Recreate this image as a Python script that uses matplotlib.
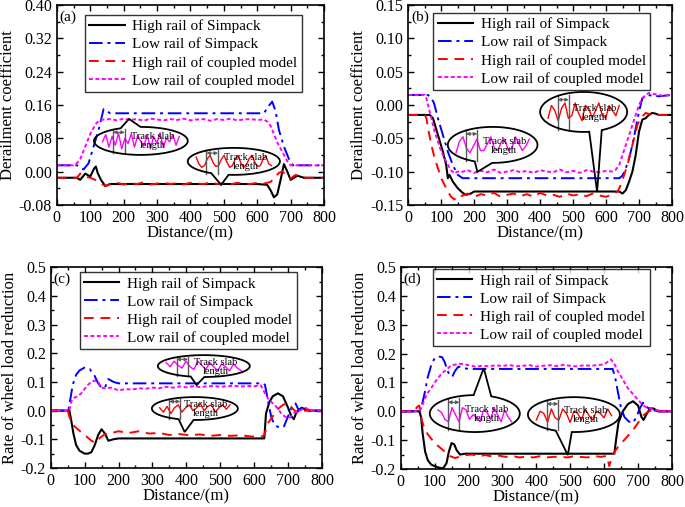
import numpy as np
import matplotlib
matplotlib.use("Agg")
import matplotlib.pyplot as plt
from matplotlib.patches import Polygon
from matplotlib.ticker import MultipleLocator, FormatStrFormatter

plt.rcParams['font.family'] = ['Liberation Serif', 'DejaVu Serif']
plt.rcParams['axes.unicode_minus'] = False

labels = ["High rail of Simpack", "Low rail of Simpack",
          "High rail of coupled model", "Low rail of coupled model"]
xlabel = "Distance/(m)"
ylabels = ["Derailment coefficient", "Derailment coefficient",
           "Rate of wheel load reduction", "Rate of wheel load reduction"]
panel_tags = ["(a)", "(b)", "(c)", "(d)"]
slab_text = "Track slab\nlength"

dist_flat = [160, 180, 200, 220, 240, 260, 280, 300, 320, 340, 360, 380,
             400, 420, 440, 460, 480, 500, 520, 540, 560, 580, 600, 620]

# ---------------- panel (a) ----------------
a_hs_x = [0, 60, 70, 85, 100, 112, 117, 122, 132, 145, 160, 300, 500, 600, 630, 640, 650, 660, 670, 680, 690, 700, 720, 740, 800]
a_hs_y = [-0.015, -0.015, -0.02, -0.005, -0.012, 0.008, 0.012, -0.003, -0.02, -0.035, -0.03, -0.03, -0.03, -0.03, -0.032, -0.045, -0.062, -0.055, -0.02, 0.018, 0.0, -0.02, -0.01, -0.015, -0.015]
a_ls_x = [0, 60, 70, 80, 95, 110, 125, 140, 160, 300, 500, 620, 632, 645, 655, 665, 680, 695, 710, 720, 800]
a_ls_y = [0.015, 0.015, 0.01, 0.005, 0.02, 0.06, 0.1, 0.15, 0.14, 0.14, 0.14, 0.14, 0.155, 0.168, 0.145, 0.1, 0.06, 0.03, 0.012, 0.015, 0.015]
a_hc_pre_x = [0, 60, 70, 85, 100, 115, 130, 145]
a_hc_pre_y = [-0.015, -0.015, -0.005, -0.012, -0.015, -0.02, -0.028, -0.035]
a_hc_flat = [-0.03, -0.027, -0.031, -0.028, -0.03, -0.026, -0.031, -0.029, -0.027, -0.03, -0.028, -0.031,
             -0.027, -0.029, -0.03, -0.026, -0.03, -0.028, -0.031, -0.027, -0.029, -0.03, -0.027, -0.029]
a_hc_post_x = [640, 655, 665, 675, 690, 700, 715, 730, 745, 800]
a_hc_post_y = [-0.025, -0.012, -0.003, 0.0, -0.01, -0.017, -0.008, -0.012, -0.015, -0.015]
a_lc_pre_x = [0, 50, 60, 70, 80, 90, 100, 110, 120, 130, 140]
a_lc_pre_y = [0.015, 0.015, 0.02, 0.03, 0.05, 0.07, 0.09, 0.105, 0.118, 0.123, 0.125]
a_lc_flat = [0.126, 0.123, 0.127, 0.124, 0.126, 0.122, 0.127, 0.125, 0.123, 0.126, 0.124, 0.127,
             0.123, 0.125, 0.126, 0.122, 0.126, 0.124, 0.127, 0.123, 0.125, 0.126, 0.124, 0.125]
a_lc_post_x = [630, 640, 650, 660, 670, 680, 690, 700, 720, 800]
a_lc_post_y = [0.12, 0.11, 0.09, 0.07, 0.055, 0.04, 0.025, 0.015, 0.015, 0.015]

# ---------------- panel (b) ----------------
b_hs_x = [0, 65, 75, 90, 105, 115, 120, 125, 135, 150, 165, 175, 190, 200, 640, 650, 660, 670, 680, 690, 700, 710, 720, 730, 740, 750, 760, 800]
b_hs_y = [-0.015, -0.015, -0.02, -0.045, -0.07, -0.09, -0.11, -0.105, -0.115, -0.125, -0.132, -0.135, -0.133, -0.13, -0.13, -0.133, -0.128, -0.115, -0.1, -0.075, -0.04, -0.022, -0.02, -0.015, -0.012, -0.013, -0.015, -0.015]
b_ls_x = [0, 60, 70, 78, 90, 105, 120, 135, 150, 165, 640, 650, 660, 670, 680, 690, 700, 710, 725, 740, 760, 800]
b_ls_y = [0.015, 0.015, 0.01, 0.003, -0.02, -0.045, -0.07, -0.09, -0.105, -0.11, -0.11, -0.106, -0.095, -0.08, -0.06, -0.035, -0.01, 0.01, 0.015, 0.014, 0.013, 0.015]
b_hc_pre_x = [0, 50, 55, 62, 70, 80, 90, 100, 110, 120, 130, 140, 150]
b_hc_pre_y = [-0.015, -0.015, -0.02, -0.04, -0.06, -0.08, -0.095, -0.11, -0.12, -0.13, -0.138, -0.142, -0.136]
b_hc_flat = [-0.137, -0.133, -0.138, -0.134, -0.136, -0.132, -0.138, -0.135, -0.133, -0.137, -0.134, -0.138,
             -0.132, -0.136, -0.135, -0.138, -0.133, -0.136, -0.134, -0.137, -0.133, -0.136, -0.138, -0.134]
b_hc_post_x = [635, 645, 655, 665, 675, 685, 695, 705, 720, 740, 800]
b_hc_post_y = [-0.13, -0.12, -0.105, -0.09, -0.07, -0.05, -0.03, -0.02, -0.012, -0.015, -0.015]
b_lc_pre_x = [0, 50, 55, 60, 70, 80, 90, 100, 110, 120, 130, 140, 150]
b_lc_pre_y = [0.015, 0.015, 0.01, 0.0, -0.02, -0.04, -0.055, -0.07, -0.08, -0.09, -0.098, -0.103, -0.1]
b_lc_flat = [-0.101, -0.098, -0.102, -0.099, -0.101, -0.097, -0.102, -0.1, -0.098, -0.101, -0.099, -0.102,
             -0.098, -0.1, -0.101, -0.097, -0.101, -0.099, -0.102, -0.098, -0.1, -0.101, -0.099, -0.1]
b_lc_post_x = [630, 640, 650, 660, 670, 680, 690, 700, 710, 720, 730, 750, 770, 800]
b_lc_post_y = [-0.097, -0.09, -0.075, -0.06, -0.045, -0.03, -0.015, 0.0, 0.01, 0.015, 0.018, 0.016, 0.014, 0.015]

# ---------------- panel (c) ----------------
c_hs_x = [0, 55, 60, 67, 75, 85, 100, 110, 120, 130, 140, 150, 160, 170, 185, 200, 630, 635, 645, 655, 670, 685, 700, 710, 717, 725, 740, 760, 800]
c_hs_y = [0, 0, -0.03, -0.08, -0.12, -0.14, -0.15, -0.15, -0.145, -0.12, -0.085, -0.065, -0.08, -0.105, -0.1, -0.097, -0.097, -0.01, 0.03, 0.05, 0.06, 0.05, 0.01, -0.02, -0.03, -0.005, 0.01, 0.0, 0.0]
c_ls_x = [0, 52, 58, 65, 75, 85, 100, 115, 130, 140, 150, 160, 170, 185, 200, 625, 632, 640, 650, 660, 675, 688, 700, 712, 722, 732, 745, 760, 800]
c_ls_y = [0, 0, 0.04, 0.09, 0.125, 0.14, 0.15, 0.145, 0.12, 0.095, 0.08, 0.08, 0.11, 0.1, 0.095, 0.095, 0.09, 0.04, -0.02, -0.05, -0.06, -0.055, -0.02, 0.015, 0.025, 0.0, 0.01, 0.0, 0.0]
c_hc_x = [0, 50, 55, 62, 75, 90, 105, 120, 132, 145, 160, 180, 200, 230, 260, 290, 320, 350, 380, 410, 440, 470, 500, 530, 560, 590, 620, 630, 640, 655, 670, 685, 700, 715, 730, 750, 770, 800]
c_hc_y = [0, 0, -0.02, -0.045, -0.06, -0.075, -0.09, -0.105, -0.112, -0.095, -0.082, -0.078, -0.072, -0.078, -0.072, -0.08, -0.078, -0.085, -0.082, -0.086, -0.083, -0.088, -0.085, -0.088, -0.086, -0.09, -0.092, -0.085, -0.045, -0.02, 0.005, 0.02, 0.025, 0.005, -0.01, 0.0, 0.0, 0.0]
c_lc_pre_x = [0, 55, 60, 70, 80, 90, 100, 110, 120, 130, 140, 150]
c_lc_pre_y = [0, 0, 0.03, 0.045, 0.05, 0.06, 0.075, 0.09, 0.1, 0.105, 0.1, 0.08]
c_lc_flat = [0.078, 0.08, 0.07, 0.075, 0.073, 0.078, 0.076, 0.08, 0.078, 0.083, 0.08, 0.084,
             0.081, 0.085, 0.082, 0.084, 0.086, 0.083, 0.085, 0.087, 0.084, 0.086, 0.085, 0.088]
c_lc_post_x = [632, 642, 655, 668, 680, 692, 705, 720, 735, 750, 770, 800]
c_lc_post_y = [0.06, 0.04, 0.025, 0.01, -0.01, -0.022, -0.025, -0.005, 0.0, 0.01, 0.0, 0.0]

# ---------------- panel (d) ----------------
d_hs_x = [0, 55, 60, 65, 72, 80, 90, 100, 112, 125, 135, 142, 150, 158, 165, 175, 190, 630, 635, 642, 655, 670, 685, 700, 710, 716, 725, 735, 745, 760, 800]
d_hs_y = [0, 0, -0.02, -0.08, -0.14, -0.17, -0.185, -0.19, -0.195, -0.198, -0.18, -0.14, -0.11, -0.115, -0.135, -0.15, -0.147, -0.147, -0.1, -0.04, 0.0, 0.025, 0.035, 0.02, -0.02, -0.03, -0.01, 0.01, 0.01, 0.0, 0.0]
d_ls_x = [0, 55, 62, 70, 80, 90, 100, 112, 122, 130, 138, 145, 152, 160, 170, 185, 200, 625, 632, 640, 650, 660, 672, 685, 695, 705, 715, 725, 740, 760, 800]
d_ls_y = [0, 0, 0.02, 0.06, 0.12, 0.16, 0.185, 0.19, 0.188, 0.17, 0.14, 0.125, 0.12, 0.14, 0.155, 0.15, 0.147, 0.147, 0.12, 0.07, 0.01, -0.02, -0.035, -0.04, -0.02, 0.01, 0.03, 0.015, 0.005, 0.0, 0.0]
d_hc_x = [0, 40, 48, 55, 62, 70, 80, 90, 100, 115, 130, 145, 160, 175, 190, 210, 230, 250, 270, 290, 310, 330, 350, 370, 390, 410, 430, 450, 470, 490, 510, 530, 550, 570, 590, 608, 615, 625, 640, 655, 670, 685, 700, 715, 730, 750, 770, 800]
d_hc_y = [0, 0, 0.015, 0.02, -0.03, -0.06, -0.08, -0.095, -0.11, -0.125, -0.14, -0.155, -0.162, -0.157, -0.152, -0.15, -0.155, -0.152, -0.157, -0.154, -0.158, -0.155, -0.16, -0.157, -0.16, -0.156, -0.16, -0.158, -0.157, -0.16, -0.156, -0.158, -0.16, -0.155, -0.158, -0.155, -0.19, -0.15, -0.125, -0.105, -0.085, -0.065, -0.04, -0.015, 0.0, 0.005, 0.0, 0.0]
d_lc_pre_x = [0, 55, 60, 70, 80, 90, 100, 110, 120, 130, 140, 150]
d_lc_pre_y = [0, 0, 0.01, 0.04, 0.065, 0.08, 0.1, 0.115, 0.13, 0.14, 0.15, 0.16]
d_lc_flat = [0.162, 0.165, 0.16, 0.155, 0.158, 0.156, 0.16, 0.157, 0.161, 0.156, 0.158, 0.16,
             0.155, 0.158, 0.16, 0.157, 0.161, 0.158, 0.156, 0.16, 0.158, 0.16, 0.163, 0.18]
d_lc_post_x = [630, 640, 650, 660, 670, 685, 700, 715, 730, 750, 770, 800]
d_lc_post_y = [0.165, 0.14, 0.12, 0.1, 0.08, 0.06, 0.04, 0.02, 0.01, 0.005, 0.0, 0.0]

# ---------------- inset waveforms (track slab detail) ----------------
wave_a1 = [0.5, 0.9, 0.2, 0.8, 0.3, 1.0, 0.1, 0.7, 0.4, 0.95, 0.2, 0.85, 0.5, 0.3, 0.9, 0.1, 0.8, 0.4, 1.0, 0.2, 0.7, 0.5, 0.9, 0.3, 0.8]
wave_a2 = [0.8, 0.4, 0.2, 0.3, 0.7, 0.9, 0.5, 0.25, 0.3, 0.65, 0.9, 0.5, 0.2, 0.3, 0.7, 0.9, 0.45, 0.2, 0.35, 0.7, 0.9, 0.5, 0.25, 0.3, 0.7, 0.85, 0.4, 0.3]
wave_b1 = [0.2, 0.7, 0.9, 0.4, 0.2, 0.5, 0.8, 0.3, 0.3, 0.6, 0.9, 0.4, 0.3, 0.7, 0.8, 0.3, 0.4, 0.9, 0.6, 0.3, 0.5, 0.8]
wave_b2 = [0.3, 0.8, 0.6, 0.2, 0.7, 0.9, 0.3, 0.4, 0.9, 0.5, 0.2, 0.8, 0.7, 0.3, 0.6, 0.9, 0.4, 0.3, 0.8, 0.6, 0.4, 0.8]
wave_c1 = [0.8, 0.5, 0.9, 0.6, 0.4, 0.9, 0.5, 0.3, 0.9, 0.6, 0.3, 0.8, 0.5, 0.2, 0.7, 0.5, 0.2, 0.7, 0.4, 0.2]
wave_c2 = [0.6, 0.3, 0.7, 0.2, 0.6, 0.8, 0.3, 0.6, 0.8, 0.4, 0.6, 0.9, 0.4, 0.7, 0.8, 0.3, 0.6, 0.8, 0.5, 0.8]
wave_d1 = [0.7, 0.6, 0.3, 0.2, 0.8, 0.5, 0.2, 0.8, 0.7, 0.3, 0.5, 0.4, 0.2, 0.7, 0.6, 0.3, 0.8, 0.5, 0.2, 0.7, 0.4, 0.2]
wave_d2 = [0.3, 0.7, 0.6, 0.2, 0.8, 0.4, 0.3, 0.8, 0.6, 0.2, 0.7, 0.6, 0.3, 0.8, 0.5, 0.3, 0.7, 0.6, 0.4, 0.8, 0.5]

BLUE, RED, MAG = '#0000FF', '#FF0000', '#FF00FF'

fig = plt.figure(figsize=(6.85, 5.07), dpi=100)
rects = [[0.083, 0.596, 0.390, 0.394],
         [0.596, 0.596, 0.385, 0.394],
         [0.074, 0.077, 0.396, 0.396],
         [0.585, 0.075, 0.396, 0.398]]
ylims = [(-0.08, 0.40), (-0.15, 0.15), (-0.2, 0.5), (-0.2, 0.5)]
ysteps = [0.08, 0.05, 0.1, 0.1]
yfmts = ['%.2f', '%.2f', '%.1f', '%.1f']
legend_anchor = [(0.105, 0.95), (0.095, 0.96), (0.107, 0.975), (0.118, 0.99)]

series = [
    [(a_hs_x, a_hs_y), (a_ls_x, a_ls_y),
     (a_hc_pre_x + dist_flat + a_hc_post_x, a_hc_pre_y + a_hc_flat + a_hc_post_y),
     (a_lc_pre_x + dist_flat + a_lc_post_x, a_lc_pre_y + a_lc_flat + a_lc_post_y)],
    [(b_hs_x, b_hs_y), (b_ls_x, b_ls_y),
     (b_hc_pre_x + dist_flat + b_hc_post_x, b_hc_pre_y + b_hc_flat + b_hc_post_y),
     (b_lc_pre_x + dist_flat + b_lc_post_x, b_lc_pre_y + b_lc_flat + b_lc_post_y)],
    [(c_hs_x, c_hs_y), (c_ls_x, c_ls_y), (c_hc_x, c_hc_y),
     (c_lc_pre_x + dist_flat + c_lc_post_x, c_lc_pre_y + c_lc_flat + c_lc_post_y)],
    [(d_hs_x, d_hs_y), (d_ls_x, d_ls_y), (d_hc_x, d_hc_y),
     (d_lc_pre_x + dist_flat + d_lc_post_x, d_lc_pre_y + d_lc_flat + d_lc_post_y)],
]

styles = [dict(color='k', lw=1.5, ls='-'),
          dict(color=BLUE, lw=1.4, dashes=[7, 2.5, 1.5, 2.5]),
          dict(color=RED, lw=1.4, dashes=[5, 3.5]),
          dict(color=MAG, lw=1.4, dashes=[2, 1.3])]

# callout layout: (cx, cy, w, h, base_angle_deg, half_width_rad, tip, wave, color)
callouts = [
    [(0.3145, 0.32, 0.351, 0.14, 103, 0.22, (0.27, 0.43), wave_a1, MAG),
     (0.6625, 0.2175, 0.345, 0.135, 252, 0.2, (0.615, 0.10), wave_a2, RED)],
    [(0.32, 0.30, 0.34, 0.18, 258, 0.2, (0.262, 0.165), wave_b1, MAG),
     (0.665, 0.465, 0.33, 0.20, 286, 0.15, (0.716, 0.065), wave_b2, RED)],
    [(0.5645, 0.5075, 0.339, 0.109, 262, 0.15, (0.538, 0.413), wave_c1, MAG),
     (0.5315, 0.296, 0.317, 0.114, 258, 0.18, (0.494, 0.179), wave_c2, RED)],
    [(0.273, 0.2745, 0.332, 0.183, 80, 0.2, (0.306, 0.50), wave_d1, MAG),
     (0.6385, 0.2695, 0.339, 0.173, 257, 0.18, (0.616, 0.069), wave_d2, RED)],
]


def draw_callout(ax, cx, cy, w, h, ang, da, tip, wave, color):
    a0 = np.deg2rad(ang)
    t = np.linspace(a0 + da, a0 + 2 * np.pi - da, 240)
    pts = np.column_stack([cx + w / 2 * np.cos(t), cy + h / 2 * np.sin(t)])
    pts = np.vstack([pts, [tip]])
    ax.add_patch(Polygon(pts, closed=True, fill=False, ec='k', lw=1.3,
                         transform=ax.transAxes, zorder=6, clip_on=False))
    ins = ax.inset_axes([cx - w / 2 + 0.05 * w, cy - h / 2 + 0.12 * h, 0.9 * w, 0.7 * h])
    ins.axis('off')
    ins.patch.set_alpha(0)
    ins.plot(range(len(wave)), wave, color=color, lw=1.0)
    ins.set_ylim(-0.05, 1.05)
    for v in (0.17, 0.31):
        ins.plot([v, v], [-0.1, 1.15], transform=ins.transAxes, color='0.35',
                 lw=1.0, clip_on=False)
    ins.annotate('', xy=(0.17, 0.98), xytext=(0.31, 0.98), xycoords='axes fraction',
                 arrowprops=dict(arrowstyle='<|-|>', color='0.35', lw=0.8,
                                 mutation_scale=5, shrinkA=0, shrinkB=0))
    ax.text(cx - w / 2 + 0.63 * w, cy - 0.02 * h, slab_text, transform=ax.transAxes,
            ha='center', va='center', fontsize=7.5, linespacing=1.0, zorder=7)


for i in range(4):
    ax = fig.add_axes(rects[i])
    for (xs, ys), st, lab in zip(series[i], styles, labels):
        ax.plot(xs, ys, label=lab, **st)
    ax.set_xlim(0, 800)
    ax.set_ylim(*ylims[i])
    ax.xaxis.set_major_locator(MultipleLocator(100))
    ax.xaxis.set_minor_locator(MultipleLocator(50))
    ax.yaxis.set_major_locator(MultipleLocator(ysteps[i]))
    ax.yaxis.set_minor_locator(MultipleLocator(ysteps[i] / 2))
    ax.yaxis.set_major_formatter(FormatStrFormatter(yfmts[i]))
    ax.tick_params(which='both', direction='in', top=True, right=True,
                   labelsize=11.5, width=1.0)
    ax.tick_params(which='major', length=4.5)
    ax.tick_params(which='minor', length=2.5)
    for s in ax.spines.values():
        s.set_linewidth(1.2)
    ax.set_xlabel(xlabel, fontsize=12, labelpad=0)
    ax.set_ylabel(ylabels[i], fontsize=12, labelpad=2)
    ax.text(0.01, 0.975, panel_tags[i], transform=ax.transAxes, fontsize=11,
            ha='left', va='top')
    leg = ax.legend(loc='upper left', bbox_to_anchor=legend_anchor[i], borderaxespad=0,
                    fontsize=11, frameon=True, fancybox=False, edgecolor='k',
                    handlelength=2.3, handletextpad=0.5, labelspacing=0.28,
                    borderpad=0.3)
    leg.get_frame().set_linewidth(1.0)
    for c in callouts[i]:
        draw_callout(ax, *c)

fig.savefig('out.png', dpi=100)
